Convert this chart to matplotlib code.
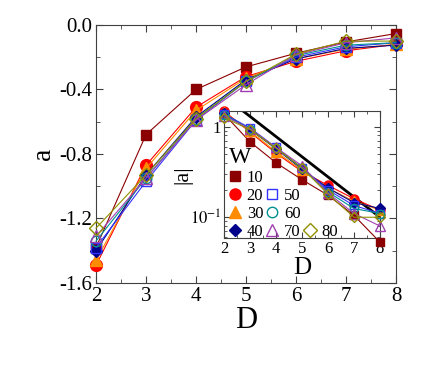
import numpy as np
import matplotlib
matplotlib.use("Agg")
import matplotlib.pyplot as plt
from matplotlib.lines import Line2D
from matplotlib.ticker import MultipleLocator

plt.rcParams['font.family'] = 'serif'
plt.rcParams['font.serif'] = ['Liberation Serif', 'DejaVu Serif']
plt.rcParams['mathtext.fontset'] = 'stix'

# data
D = [2, 3, 4, 5, 6, 7, 8]
W = [10, 20, 30, 40, 50, 60, 70, 80]
a_W10 = [-1.38, -0.68, -0.40, -0.26, -0.175, -0.105, -0.053]
a_W20 = [-1.49, -0.87, -0.51, -0.32, -0.225, -0.16, -0.12]
a_W30 = [-1.46, -0.89, -0.53, -0.33, -0.21, -0.15, -0.12]
a_W40 = [-1.40, -0.93, -0.57, -0.34, -0.21, -0.145, -0.125]
a_W50 = [-1.38, -0.97, -0.59, -0.35, -0.20, -0.135, -0.11]
a_W60 = [-1.34, -0.95, -0.58, -0.35, -0.19, -0.125, -0.11]
a_W70 = [-1.31, -0.95, -0.59, -0.37, -0.185, -0.11, -0.08]
a_W80 = [-1.26, -0.93, -0.58, -0.35, -0.18, -0.10, -0.10]
# black guide line in the inset
guide_D = [2, 8]
guide_absa = [2.17, 0.10]

series = [a_W10, a_W20, a_W30, a_W40, a_W50, a_W60, a_W70, a_W80]
colors = ['#8b0000', '#ff0000', '#ff8c00', '#00008b', '#3333ff', '#009090', '#a040b0', '#909000']
markers = ['s', 'o', '^', 'D', 's', 'o', '^', 'D']
filled = [True, True, True, True, False, False, False, False]
msize_main = [7.5, 8.5, 8, 6.5, 7.5, 7.5, 8, 7]
msize_ins = [6, 6.5, 6.5, 5, 6, 6, 6.5, 5.5]

fig = plt.figure(figsize=(4.3, 3.69), dpi=100)
fig.patch.set_facecolor('white')
ax = fig.add_axes([0.2233, 0.2331, 0.6977, 0.6992])
ins = fig.add_axes([0.5209, 0.355, 0.3628, 0.3442])

spine_col = '#404040'

# main panel
for y, c, m, f, ms in zip(series, colors, markers, filled, msize_main):
    ax.plot(D, y, color=c, lw=0.8, marker=m, ms=ms,
            mfc=c if f else 'none', mec=c, mew=1.0, clip_on=False, zorder=3)
ax.set_xlim(2, 8)
ax.set_ylim(-1.6, 0.0)
ax.xaxis.set_major_locator(MultipleLocator(1))
ax.xaxis.set_minor_locator(MultipleLocator(0.5))
ax.yaxis.set_major_locator(MultipleLocator(0.4))
ax.yaxis.set_minor_locator(MultipleLocator(0.2))
ax.set_yticklabels([f'{v:.1f}' for v in ax.get_yticks()])
ax.tick_params(which='both', direction='in', top=True, right=True, colors=spine_col,
               labelcolor='black', labelsize=15, pad=3)
ax.tick_params(which='major', length=5)
ax.tick_params(which='minor', length=3)
for s in ax.spines.values():
    s.set_color(spine_col)
ax.set_xlabel('D', fontsize=22, labelpad=0)
ax.set_ylabel('a', fontsize=20, labelpad=2)

# inset
ins.plot(guide_D, guide_absa, color='black', lw=2, zorder=2)
handles = []
for y, c, m, f, ms, w in zip(series, colors, markers, filled, msize_ins, W):
    ins.plot(D, np.abs(y), color=c, lw=0.8, marker=m, ms=ms,
             mfc=c if f else 'none', mec=c, mew=1.0, clip_on=False, zorder=3)
    handles.append(Line2D([], [], linestyle='none', marker=m, ms=ms + 1.5, color=c,
                          mfc=c if f else 'none', mec=c, mew=1.0, label=str(w)))
ins.set_yscale('log')
ins.set_xlim(2, 8)
ins.set_ylim(0.059, 1.49)
ins.xaxis.set_major_locator(MultipleLocator(1))
ins.xaxis.set_minor_locator(MultipleLocator(0.5))
ins.set_yticks([0.1, 1])
ins.set_yticklabels(['$10^{-1}$', '1'])
ins.tick_params(which='both', direction='in', top=True, right=True, colors=spine_col,
                labelcolor='black', labelsize=12, pad=2)
ins.tick_params(which='major', length=4)
ins.tick_params(which='minor', length=2)
for s in ins.spines.values():
    s.set_color(spine_col)
ins.set_xlabel('D', fontsize=18, labelpad=0)
ins.set_ylabel('|a|', fontsize=16, labelpad=-2)

# legend: three columns with empty slots
blank = Line2D([], [], linestyle='none')
leg_h = handles[0:4] + [blank] + handles[4:7] + [blank, blank, blank, handles[7]]
leg_l = [hh.get_label() if hh is not blank else '' for hh in leg_h]
leg = ins.legend(leg_h, leg_l, ncol=3, loc='upper left', bbox_to_anchor=(-0.02, 0.78),
                 frameon=False, fontsize=12, title='W', title_fontsize=17,
                 handlelength=0.7, handletextpad=0.35, columnspacing=0.2,
                 labelspacing=0.12, borderaxespad=0.1)
leg._legend_box.align = 'left'

fig.savefig('out.png', dpi=100)
